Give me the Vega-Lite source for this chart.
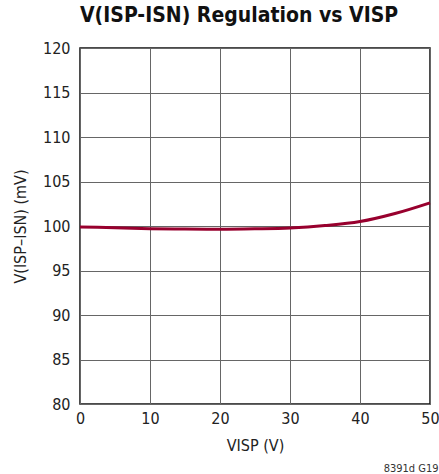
{
  "$schema": "https://vega.github.io/schema/vega-lite/v6.json",
  "autosize": "none",
  "width": 350,
  "height": 356,
  "padding": {"left": 80, "top": 48, "right": 9, "bottom": 70},
  "background": "white",
  "title": {
    "text": "V(ISP-ISN) Regulation vs VISP",
    "anchor": "start",
    "frame": "group",
    "font": "DejaVu Sans Condensed, Liberation Sans",
    "fontSize": 21,
    "fontWeight": "bold",
    "color": "#111",
    "offset": 14
  },
  "config": {
    "view": {"stroke": "#111", "strokeWidth": 1.5},
    "font": "DejaVu Sans Condensed, Liberation Sans",
    "axis": {
      "labelFont": "DejaVu Sans Condensed, Liberation Sans",
      "titleFont": "DejaVu Sans Condensed, Liberation Sans",
      "labelFontSize": 16,
      "titleFontSize": 16,
      "titleFontWeight": "normal",
      "labelColor": "#222",
      "titleColor": "#222",
      "gridColor": "#666",
      "gridOpacity": 1,
      "gridWidth": 1,
      "domain": false,
      "ticks": false,
      "labelFlush": false
    }
  },
  "layer": [
    {
      "data": {
        "values": [
          {"visp": 0, "v": 99.9},
          {"visp": 5, "v": 99.8},
          {"visp": 10, "v": 99.7},
          {"visp": 15, "v": 99.65},
          {"visp": 20, "v": 99.63},
          {"visp": 25, "v": 99.68},
          {"visp": 30, "v": 99.78},
          {"visp": 35, "v": 100.05},
          {"visp": 40, "v": 100.5},
          {"visp": 45, "v": 101.4},
          {"visp": 50, "v": 102.6}
        ]
      },
      "mark": {"type": "line", "color": "#98002E", "strokeWidth": 3, "interpolate": "monotone"},
      "encoding": {
        "x": {
          "field": "visp", "type": "quantitative",
          "scale": {"domain": [0, 50], "nice": false},
          "axis": {"values": [0, 10, 20, 30, 40, 50], "title": "VISP (V)", "labelPadding": 6, "titlePadding": 11}
        },
        "y": {
          "field": "v", "type": "quantitative",
          "scale": {"domain": [80, 120], "nice": false, "zero": false},
          "axis": {"values": [80, 85, 90, 95, 100, 105, 110, 115, 120], "title": "V(ISP–ISN) (mV)", "labelPadding": 10, "titlePadding": 14}
        }
      }
    },
    {
      "data": {"values": [{"note": "8391d G19", "x": 50}]},
      "mark": {"type": "point", "opacity": 0},
      "encoding": {
        "x": {
          "field": "x", "type": "quantitative",
          "axis": {
            "orient": "bottom", "title": "8391d G19", "labels": false, "grid": false,
            "titleFontSize": 11, "titleAlign": "right", "titleLimit": 400,
            "titleX": 358, "titleY": 58, "titleColor": "#333"
          }
        }
      }
    }
  ],
  "resolve": {"axis": {"x": "independent"}}
}
